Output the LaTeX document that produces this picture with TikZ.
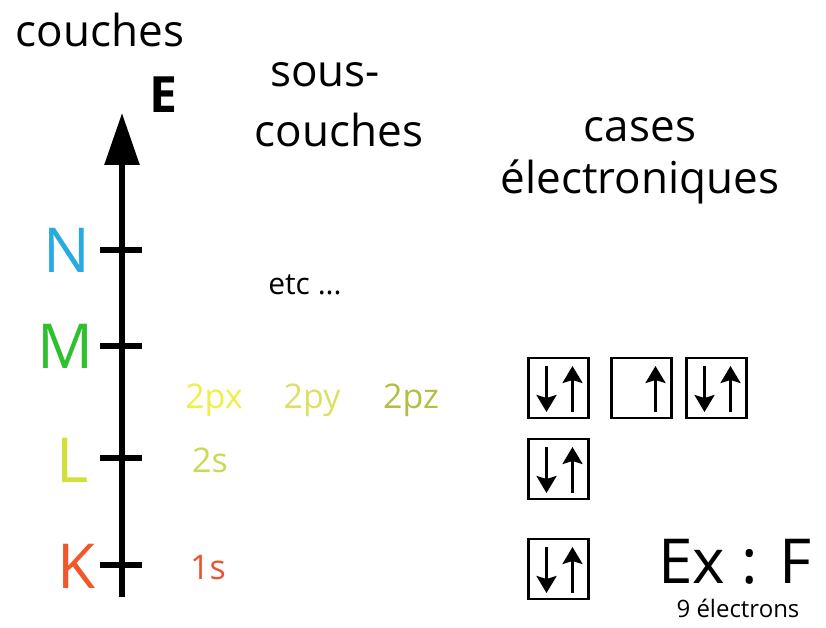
\documentclass[tikz,border=0pt]{standalone}
\usepackage{fontspec}
\setmainfont{Open Sans}
\usetikzlibrary{arrows.meta}
\definecolor{cN}{HTML}{29ABE2}
\definecolor{cM}{HTML}{2EC02E}
\definecolor{cL}{HTML}{D2E03A}
\definecolor{cK}{HTML}{F0582A}
\definecolor{cpx}{HTML}{EEF04A}
\definecolor{cpy}{HTML}{DCE064}
\definecolor{cpz}{HTML}{B4BE44}
\definecolor{cs}{HTML}{CCD858}
\definecolor{cone}{HTML}{EE5230}
\tikzset{
  lbl/.style={inner sep=0pt, font=\fontsize{#1}{#1}\selectfont},
  shell/.style={inner sep=0pt, font=\fontsize{62}{62}\selectfont},
  tick/.style={line width=6pt},
  caseb/.style={draw, line width=2.6pt, minimum width=60pt, minimum height=60pt, inner sep=0pt},
  spin/.style={line width=2.8pt, -{Stealth[width=20pt,length=17pt,inset=3pt]}},
}
\begin{document}
\begin{tikzpicture}[x=1pt,y=-1pt]
\useasboundingbox (0,0) rectangle (826,628);
% energy axis
\coordinate (axbot) at (122,597);
\coordinate (axtop) at (122,113);
\draw[line width=6pt, -{Triangle[width=34pt,length=52pt]}] (axbot) -- (axtop);
\node[inner sep=0pt, font=\fontsize{50}{50}\selectfont\bfseries] (E) at (163,95) {E};
% shell ticks
\foreach \n/\y in {N/250,M/346,L/458,K/565}{
  \coordinate (t\n a) at (100,\y);
  \coordinate (t\n b) at (142,\y);
  \draw[tick] (t\n a) -- (t\n b);
}
\node[shell, text=cN] (N) at (67,250) {N};
\node[shell, text=cM] (M) at (65,346) {M};
\node[shell, text=cL] (L) at (73,460) {L};
\node[shell, text=cK] (K) at (77,566) {K};
% headings
\node[lbl=44] (hcouches) at (100,30) {couches};
\node[lbl=44] (hsous) at (325,75) {sous-};
\node[lbl=44] (hsousb) at (339,130) {couches};
\node[lbl=44] (hcases) at (640,130) {cases};
\node[lbl=44] (helec) at (640,182) {électroniques};
% sub-shells
\node[lbl=30] (etc) at (305,285) {etc ...};
\node[lbl=34, text=cpx] (px) at (214,400) {2px};
\node[lbl=34, text=cpy] (py) at (312,400) {2py};
\node[lbl=34, text=cpz] (pz) at (411,400) {2pz};
\node[lbl=34, text=cs] (s2) at (210,460) {2s};
\node[lbl=34, text=cone] (s1) at (208,568) {1s};
% electron boxes: spin down on the left, spin up on the right
\node[caseb] (b1) at (558.5,388) {};
\node[caseb] (b2) at (641.5,388) {};
\node[caseb] (b3) at (716.5,388) {};
\node[caseb] (b4) at (558.5,469) {};
\node[caseb] (b5) at (558.5,569) {};
\foreach \b in {b1,b3,b4,b5}{
  \draw[spin] ([xshift=-12pt,yshift=22pt]\b.center) -- ([xshift=-12pt,yshift=-24pt]\b.center);
  \draw[spin] ([xshift=14pt,yshift=-24pt]\b.center) -- ([xshift=14pt,yshift=22pt]\b.center);
}
\draw[spin] ([xshift=14pt,yshift=-24pt]b2.center) -- ([xshift=14pt,yshift=22pt]b2.center);
% example
\node[lbl=62] (ex) at (735,562) {Ex : F};
\node[lbl=24] (nine) at (738,608) {9 électrons};
\end{tikzpicture}
\end{document}
